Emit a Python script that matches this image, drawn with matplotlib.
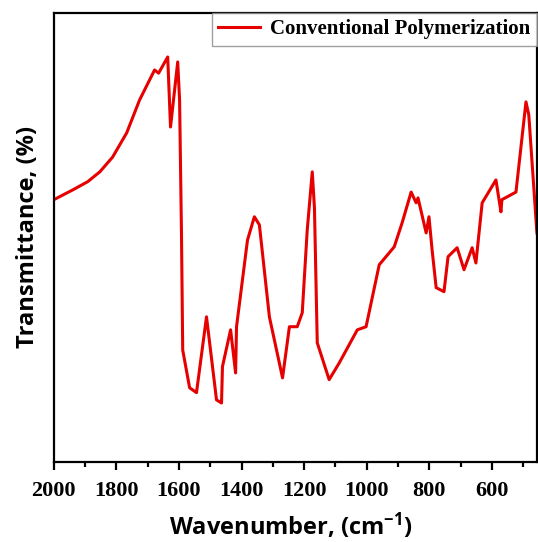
import matplotlib
matplotlib.use("Agg")
import matplotlib.pyplot as plt
from matplotlib.ticker import MultipleLocator

plt.rcParams['mathtext.default'] = 'regular'

# FTIR spectrum (wavenumber in cm-1, transmittance in arbitrary %)
wavenumber = [2000, 1939, 1892, 1853, 1812, 1767, 1726, 1678, 1665, 1636,
              1627, 1604, 1598, 1592, 1588, 1566, 1544, 1512, 1480, 1464,
              1461, 1435, 1419, 1416, 1381, 1359, 1343, 1311, 1269, 1247,
              1222, 1206, 1190, 1174, 1167, 1158, 1120, 1088, 1030, 1002,
              960, 912, 887, 858, 842, 836, 810, 801, 791, 778,
              753, 740, 711, 689, 663, 651, 631, 587, 571, 568,
              523, 491, 482, 456]
transmittance = [58.4, 60.6, 62.4, 64.6, 67.9, 73.3, 80.6, 87.3, 86.6, 90.2,
                 74.6, 89.1, 80.6, 51.0, 24.9, 16.5, 15.4, 32.3, 13.8, 13.1,
                 21.2, 29.4, 19.8, 30.1, 49.4, 54.6, 52.8, 32.3, 18.7, 30.1,
                 30.1, 33.2, 51.7, 64.6, 56.6, 26.5, 18.3, 22.0, 29.4, 30.1,
                 43.9, 47.9, 53.2, 60.1, 57.7, 58.8, 51.0, 54.6, 47.2, 38.8,
                 37.9, 45.7, 47.7, 42.8, 47.7, 44.3, 57.7, 62.8, 55.7, 58.4,
                 60.1, 80.2, 77.3, 51.0]
series_name = "Conventional Polymerization"

fig = plt.figure(figsize=(5.38, 5.42), dpi=100)
ax = fig.add_axes([0.100, 0.148, 0.898, 0.828])

ax.plot(wavenumber, transmittance, color='#e60000', lw=2.2, label=series_name)

ax.set_xlim(2000, 456)
ax.set_ylim(0, 100)
ax.xaxis.set_major_locator(MultipleLocator(200))
ax.xaxis.set_minor_locator(MultipleLocator(100))
ax.set_yticks([])

for s in ax.spines.values():
    s.set_linewidth(1.6)
ax.tick_params(axis='x', which='major', direction='out', length=6, width=1.6, pad=8)
ax.tick_params(axis='x', which='minor', direction='out', length=3.5, width=1.6)

for lab in ax.get_xticklabels():
    lab.set_fontfamily('Liberation Serif')
    lab.set_fontweight('bold')
    lab.set_fontsize(16)

ax.set_xlabel(r'Wavenumber, (cm$^{-1}$)', fontfamily='Open Sans', fontweight='bold',
              fontsize=17, va='baseline')
ax.xaxis.set_label_coords(0.49, -0.162)
ax.set_ylabel('Transmittance, (%)', fontfamily='Open Sans', fontweight='bold',
              fontsize=17, labelpad=10)

leg = ax.legend(loc='upper right', borderaxespad=0, fancybox=False,
                prop={'family': 'Liberation Serif', 'weight': 'bold', 'size': 15},
                handlelength=2.0, borderpad=0.3, handletextpad=0.5)
leg.get_frame().set_edgecolor('#888888')
leg.get_frame().set_linewidth(1.0)

fig.savefig('out.png', dpi=100)
